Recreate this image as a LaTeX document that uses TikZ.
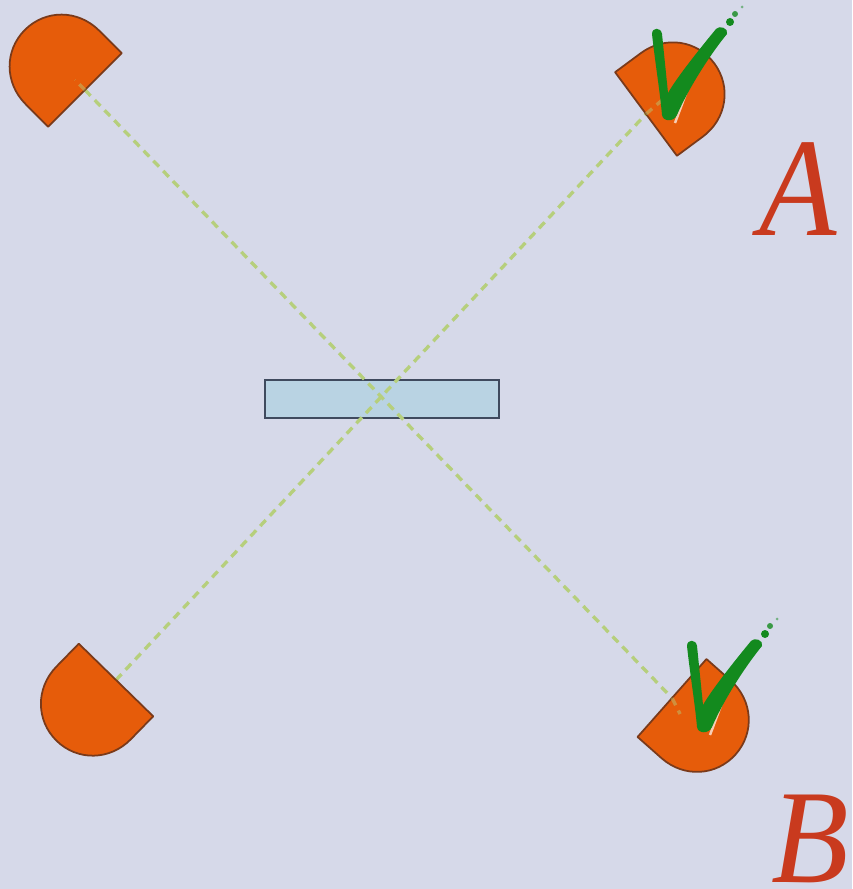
\documentclass[tikz,border=0pt]{standalone}
\usepackage{fontspec}
\usepackage{xcolor}
\setmainfont{Liberation Serif}
\definecolor{bgcol}{HTML}{D6D9E9}
\definecolor{detcol}{HTML}{E65C0A}
\definecolor{detedge}{HTML}{7A3A1A}
\definecolor{beamcol}{HTML}{B6CF7C}
\definecolor{platecol}{HTML}{B9D3E3}
\definecolor{plateedge}{HTML}{3F4A5E}
\definecolor{tickcol}{HTML}{138A1E}
\definecolor{lettercol}{HTML}{C93A1E}
\tikzset{
	detector/.style={draw=detedge,fill=detcol,line width=0.5pt,line join=round},
	beam/.style={draw=beamcol,line width=0.95pt,dash pattern=on 2.3pt off 1.7pt},
	plate/.style={draw=plateedge,fill=platecol,line width=0.6pt,inner sep=0pt,minimum width=2.34cm,minimum height=0.38cm},
	letter/.style={text=lettercol,inner sep=0pt,font=\fontsize{40}{40}\selectfont\itshape\addfontfeature{FakeStretch=0.9}},
	letterB/.style={letter,font=\fontsize{38}{38}\selectfont\itshape\addfontfeature{FakeStretch=0.95}}
}
\def\detector#1#2{\draw[detector,shift={(#1)},rotate=#2] (-52,0)--(-52,32) .. controls (-52,62) and (-29,85) .. (0,85) .. controls (29,85) and (52,62) .. (52,32)--(52,0)--cycle;}
\def\tick#1{\begin{scope}[shift={(#1)},yscale=-1]
	\draw[white,opacity=0.7,line width=0.7pt] (8,1)--(27,-50);
	\fill[tickcol,line join=round] (-15,-88) .. controls (-15,-95) and (-6,-95) .. (-5,-88)--(1,-29) .. controls (10,-45) and (35,-76) .. (49,-93) .. controls (52,-97) and (62,-94) .. (60,-88) .. controls (45,-70) and (22,-35) .. (10,-7) .. controls (7,0) and (-4,0) .. (-5,-7) .. controls (-7,-30) and (-12,-60) .. (-15,-88)--cycle;
	\fill[tickcol] (63,-100) circle (4);
	\fill[tickcol,opacity=0.8] (68,-108) circle (3);
	\fill[tickcol,opacity=0.5] (75,-115) circle (1.5);
	\end{scope}}

\begin{document}
\begin{tikzpicture}[x=0.01cm,y=0.01cm]
	\fill[bgcol] (0,-889) rectangle (852,0);
	\useasboundingbox (0,-889) rectangle (852,0);
	\coordinate (tl) at (85,-90);
	\coordinate (tr) at (646,-114);
	\coordinate (bl) at (116,-680);
	\coordinate (br) at (672,-698);
	\coordinate (tlin) at (75,-80);
	\coordinate (trin) at (668,-95);
	\coordinate (brin) at (680,-714);
	\node[plate] (splitter) at (382,-399) {};
	\draw[beam] (tl)--(br);
	\draw[beam] (bl)--(tr);
	\detector{tl}{45}
	\detector{tr}{-53.5}
	\detector{bl}{135.7}
	\detector{br}{-131.5}
	\draw[beam,opacity=0.45] (tl)--(tlin);
	\draw[beam,opacity=0.45] (tr)--(trin);
	\draw[beam,opacity=0.45] (br)--(brin);
	\tick{667,-122}
	\tick{702,-734}
	\node[letter,anchor=base west] (labelA) at (759,-236) {A};
	\node[letterB,anchor=base west] (labelB) at (771,-882) {B};
\end{tikzpicture}
\end{document}
